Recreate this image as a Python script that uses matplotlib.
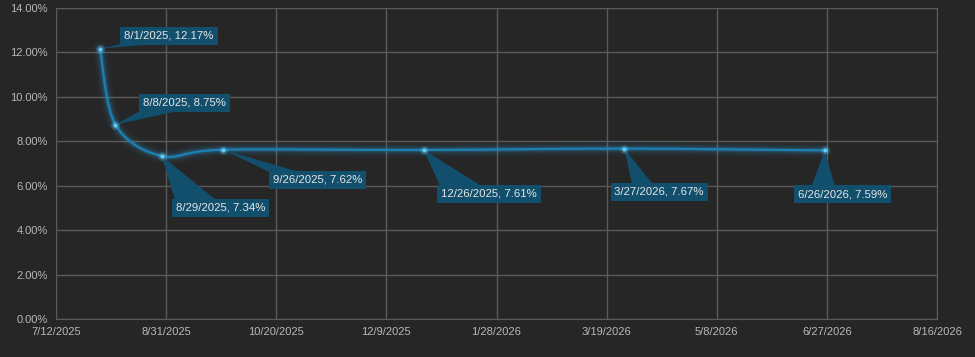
import datetime as dt

import numpy as np
import matplotlib
matplotlib.use("Agg")
import matplotlib.pyplot as plt
import matplotlib.dates as mdates
from matplotlib.path import Path
from matplotlib.patches import PathPatch, Polygon
from matplotlib.transforms import IdentityTransform
from matplotlib.ticker import FixedLocator, FuncFormatter

# ---- data ----
dates = ["2025-08-01", "2025-08-08", "2025-08-29", "2025-09-26",
         "2025-12-26", "2026-03-27", "2026-06-26"]
rates = [12.17, 8.75, 7.34, 7.62, 7.61, 7.67, 7.59]
point_labels = ["8/1/2025, 12.17%", "8/8/2025, 8.75%", "8/29/2025, 7.34%",
                "9/26/2025, 7.62%", "12/26/2025, 7.61%", "3/27/2026, 7.67%",
                "6/26/2026, 7.59%"]

# callout layout: label offset from point (pixels), pointer base as fractions of box width
label_offsets = [(69, 13), (69, 22), (59, -52), (94, -30), (65, -44), (35, -43), (18, -44)]
pointer_bases = [(0.02, 0.40), (0.02, 0.45), (0.03, 0.45), (0.0, 0.30),
                 (0.03, 0.43), (0.22, 0.43), (0.18, 0.42)]

x_start = dt.date(2025, 7, 12)
x_step_days = 50
n_xticks = 9
y_ticks = [0, 2, 4, 6, 8, 10, 12, 14]

BG = "#262626"
GRID = "#5a5a5a"
TICK = "#b8b8b8"
LINE = "#1c80b4"
DOT = "#62ccf7"
BOX = "#124f6d"

plt.rcParams["font.family"] = ["Liberation Sans", "DejaVu Sans"]

fig = plt.figure(figsize=(9.75, 3.57), dpi=100, facecolor=BG)
ax = fig.add_axes([56 / 975, 38 / 357, (937 - 56) / 975, (319 - 8) / 357])
ax.set_facecolor(BG)

x = mdates.date2num([dt.date.fromisoformat(d) for d in dates])
y = np.array(rates)

# Excel-like smoothed line: Catmull-Rom as cubic Bezier segments
pts = np.column_stack([x, y])
verts = [pts[0]]
codes = [Path.MOVETO]
for i in range(len(pts) - 1):
    p0 = pts[i - 1] if i > 0 else pts[i]
    p1 = pts[i]
    p2 = pts[i + 1]
    p3 = pts[i + 2] if i + 2 < len(pts) else pts[i + 1]
    c1 = p1 + (p2 - p0) / 6
    c2 = p2 - (p3 - p1) / 6
    verts += [c1, c2, p2]
    codes += [Path.CURVE4] * 3
path = Path(verts, codes)

# glow
for lw, a in [(11, 0.03), (8, 0.05), (5.5, 0.09), (3.5, 0.15)]:
    ax.add_patch(PathPatch(path, fill=False, ec="#2fa6e6", lw=lw, alpha=a,
                           capstyle="round", joinstyle="round", zorder=3))
ax.add_patch(PathPatch(path, fill=False, ec=LINE, lw=1.6, zorder=4))

ax.scatter(x, y, s=40, color=DOT, alpha=0.25, lw=0, zorder=9)
ax.scatter(x, y, s=9, color=DOT, lw=0, zorder=10)

labels = []
for xi, yi, txt, (dx, dy) in zip(x, y, point_labels, label_offsets):
    t = ax.annotate(txt, xy=(xi, yi), xytext=(dx, dy), textcoords="offset pixels",
                    ha="center", va="center", fontsize=8.2, color="#e6e6e6",
                    bbox=dict(boxstyle="square,pad=0.35", fc=BOX, ec="none"),
                    zorder=8)
    labels.append(t)

xticks = [mdates.date2num(x_start + dt.timedelta(days=x_step_days * i)) for i in range(n_xticks)]
ax.set_xlim(xticks[0], xticks[-1])
ax.set_ylim(y_ticks[0], y_ticks[-1])
ax.xaxis.set_major_locator(FixedLocator(xticks))
ax.xaxis.set_major_formatter(FuncFormatter(
    lambda v, _: (lambda d: f"{d.month}/{d.day}/{d.year}")(mdates.num2date(v))))
ax.yaxis.set_major_locator(FixedLocator(y_ticks))
ax.yaxis.set_major_formatter(FuncFormatter(lambda v, _: f"{v:.2f}%"))

ax.grid(True, color=GRID, lw=1)
ax.set_axisbelow(True)
for s in ax.spines.values():
    s.set_color(GRID)
ax.tick_params(length=0, colors=TICK, labelsize=8, pad=6)

# callout pointers: triangle from the box edge facing the point to the point
fig.canvas.draw()
renderer = fig.canvas.get_renderer()
for t, xi, yi, (f0, f1) in zip(labels, x, y, pointer_bases):
    bb = t.get_bbox_patch().get_window_extent(renderer)
    px, py = ax.transData.transform((xi, yi))
    edge_y = bb.y1 - 1 if py > bb.y1 else bb.y0 + 1
    tri = Polygon([(px, py), (bb.x0 + f0 * bb.width, edge_y), (bb.x0 + f1 * bb.width, edge_y)],
                  closed=True, fc=BOX, ec="none", transform=IdentityTransform(), zorder=7)
    ax.add_artist(tri)

fig.savefig("out.png", dpi=100, facecolor=BG)
